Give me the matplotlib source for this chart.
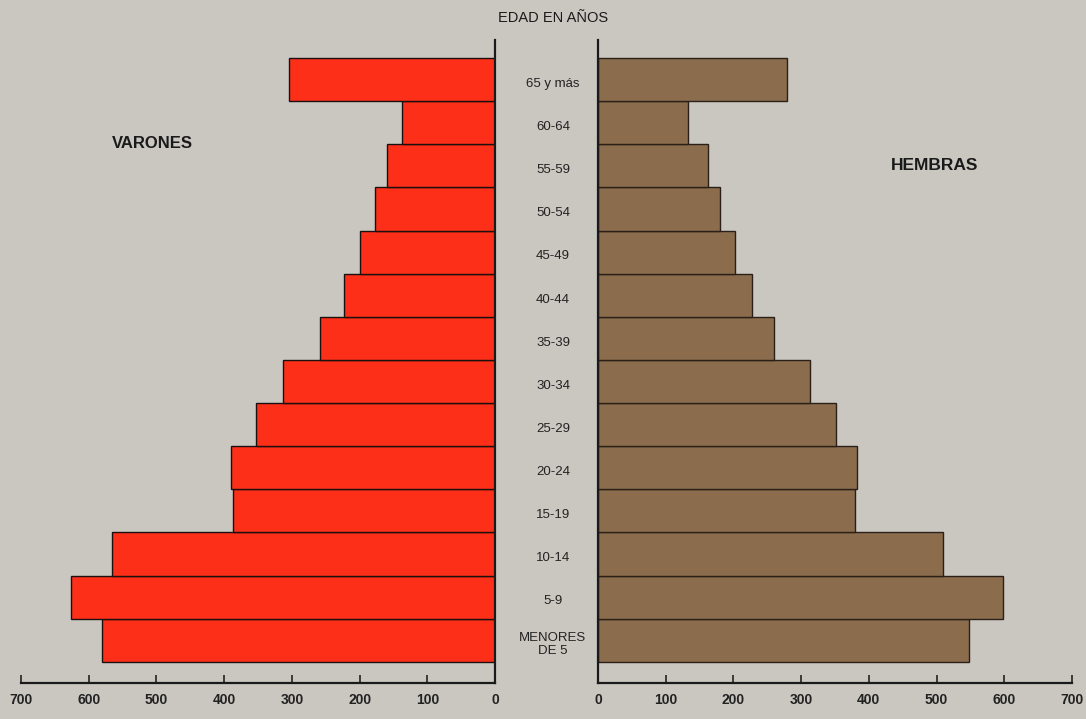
import matplotlib
matplotlib.use("Agg")
import matplotlib.pyplot as plt
from matplotlib.transforms import blended_transform_factory

plt.rcParams['font.family'] = ['Liberation Sans', 'DejaVu Sans']

categories = ["MENORES\nDE 5", "5-9", "10-14", "15-19", "20-24", "25-29", "30-34",
              "35-39", "40-44", "45-49", "50-54", "55-59", "60-64", "65 y más"]
varones = [580, 626, 566, 387, 390, 353, 313, 258, 223, 199, 177, 160, 137, 304]
hembras = [548, 598, 510, 380, 382, 352, 313, 260, 228, 202, 180, 162, 133, 279]
ticks = [0, 100, 200, 300, 400, 500, 600, 700]

bg = "#cac7c1"
red = "#fd2f18"
brown = "#8b6c4d"

fig = plt.figure(figsize=(10.86, 7.19), dpi=100, facecolor=bg)
W, H = 1086, 719
bottom = 1 - 683 / H
height = (683 - 40) / H
axL = fig.add_axes([21 / W, bottom, 474 / W, height], facecolor=bg)
axR = fig.add_axes([598 / W, bottom, 474 / W, height], facecolor=bg)

y = list(range(len(categories)))
axL.barh(y, varones, height=1.0, color=red, edgecolor="#1a1010", linewidth=1.0)
axR.barh(y, hembras, height=1.0, color=brown, edgecolor="#2a2018", linewidth=1.0)

for ax in (axL, axR):
    ax.set_xlim(0, 700)
    ax.set_ylim(-0.99, 13.92)
    ax.set_xticks(ticks)
    ax.set_xticklabels([str(t) for t in ticks], fontsize=10, fontweight='bold', color="#222222")
    ax.tick_params(axis='x', direction='in', length=6, width=1.2, color="#222222", pad=7)
    ax.set_yticks([])
    ax.spines['top'].set_visible(False)
    for s in ('left', 'right', 'bottom'):
        ax.spines[s].set_linewidth(1.6)
        ax.spines[s].set_color("#1a1a1a")

axL.invert_xaxis()
axL.spines['left'].set_visible(False)
axR.spines['right'].set_visible(False)

trans = blended_transform_factory(fig.transFigure, axL.transData)
for yi, lab in zip(y, categories):
    fig.text(553 / W, yi - 0.1, lab, transform=trans, ha='center', va='center',
             fontsize=9.5, color="#222222", linespacing=1.1)

fig.text(553 / W, 1 - 18 / H, "EDAD EN AÑOS", ha='center', va='center',
         fontsize=10.5, color="#1a1a1a")
fig.text(152 / W, 1 - 143 / H, "VARONES", ha='center', va='center',
         fontsize=12, fontweight='bold', color="#1a1a1a")
fig.text(935 / W, 1 - 165 / H, "HEMBRAS", ha='center', va='center',
         fontsize=12.5, fontweight='bold', color="#1a1a1a")

fig.savefig("out.png", dpi=100, facecolor=bg)
